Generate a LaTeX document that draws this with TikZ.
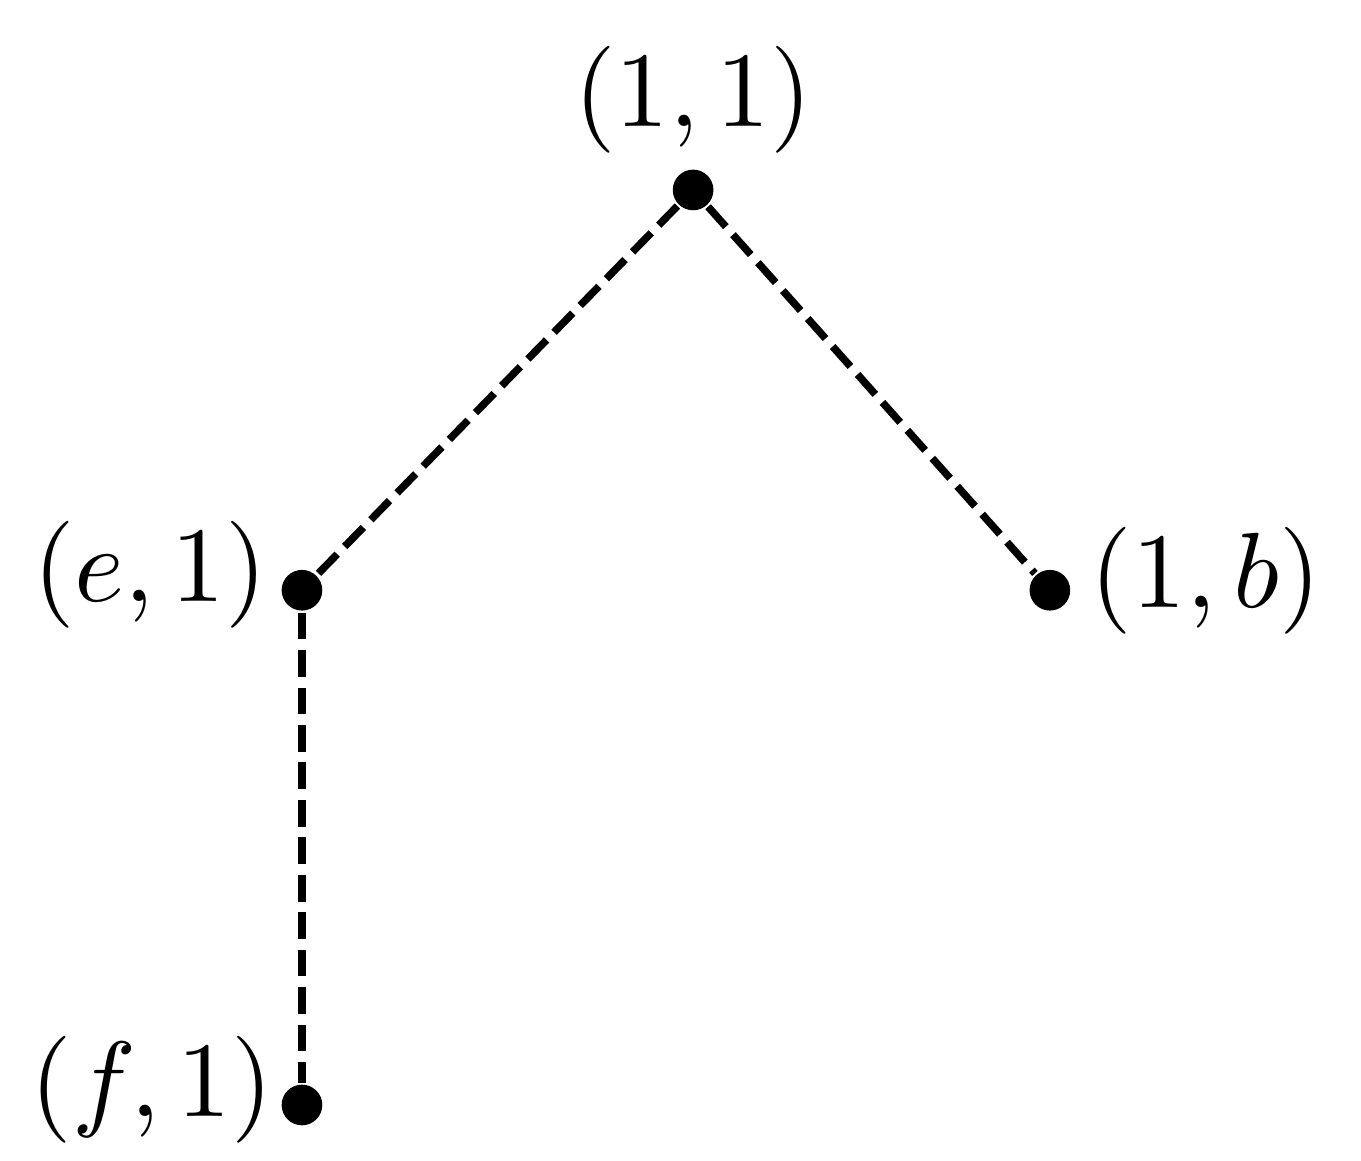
\documentclass[tikz,border=0pt]{standalone}
\begin{document}
\begin{tikzpicture}[dot/.style={circle, fill, inner sep=0pt, minimum size=3.8pt},
		edgeline/.style={line width=.7pt, dash pattern=on 2.5pt off 1pt}]
		\useasboundingbox (0,0) rectangle (4.471,3.811);
		\node[dot] (t) at (2.277,3.187) {};
		\node[dot] (e) at (0.992,1.872) {};
		\node[dot] (b) at (3.449,1.872) {};
		\node[dot] (f) at (0.992,0.181) {};
		\draw [edgeline] (t) -- (e);
		\draw [edgeline] (t) -- (b);
		\draw [edgeline] (e) -- (f);
		\node (lt) at (2.277,3.482) {\( (1,1) \)};
		\node (le) at (0.493,1.922) {\( (e,1) \)};
		\node (lb) at (3.962,1.902) {\( (1,b) \)};
		\node (lf) at (0.499,0.230) {\( (f,1) \)};
	\end{tikzpicture}
\end{document}
